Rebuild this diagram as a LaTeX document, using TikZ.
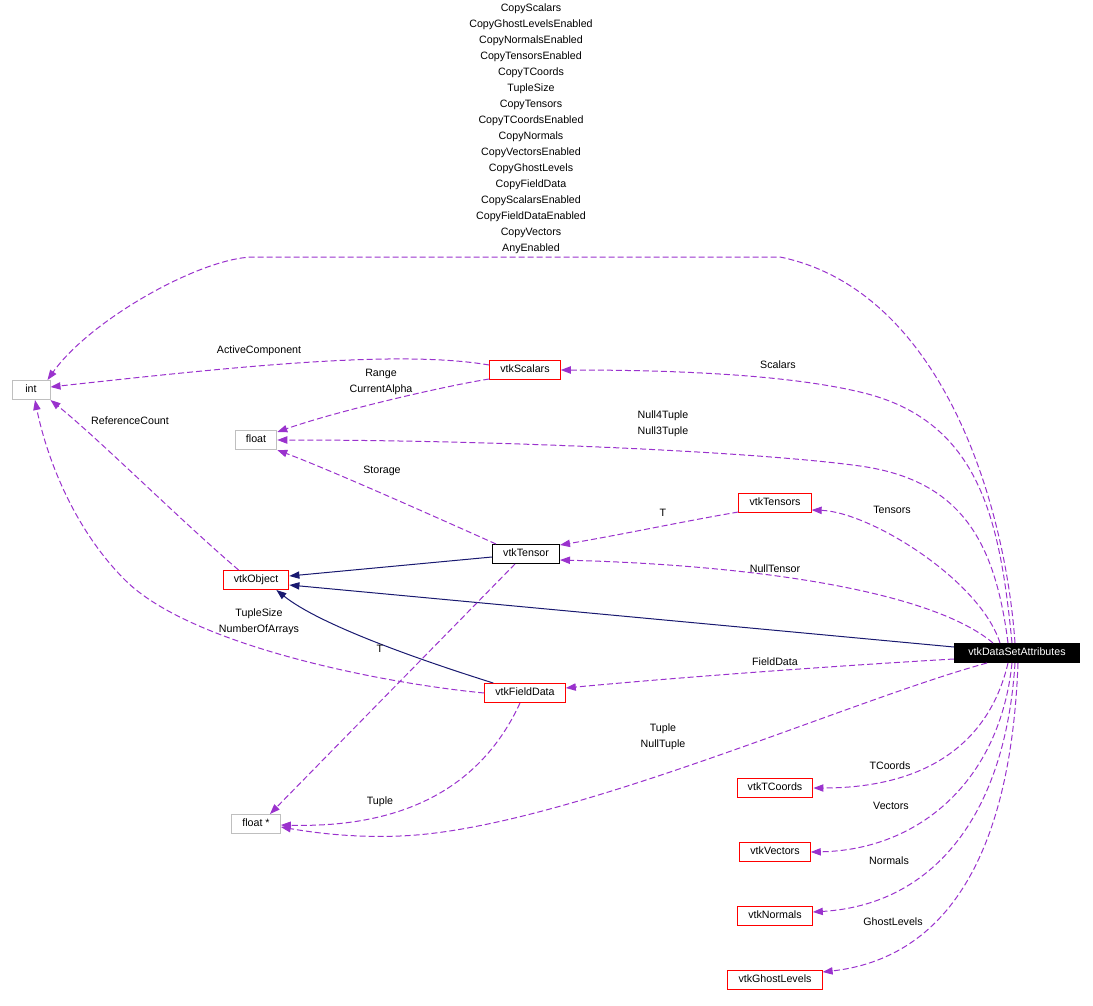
\documentclass[tikz,border=0pt]{standalone}
\usepackage{fontspec}
\setmainfont{Liberation Sans}
\usetikzlibrary{positioning, calc, arrows.meta}
\definecolor{dgUse}{HTML}{9A32CD}
\definecolor{dgInherit}{HTML}{191970}
\definecolor{dgExtern}{HTML}{BFBFBF}

\begin{document}
\begin{tikzpicture}[x=0.75pt,y=-0.75pt,
  font=\fontsize{8}{12}\selectfont,
  box/.style={draw=black, fill=white, line width=0.75pt, minimum height=14.25pt, minimum width=28.5pt,
    inner xsep=8pt, inner ysep=0pt, text height=6pt, text depth=1.7pt},
  cls/.style={box, draw=red},
  ext/.style={box, draw=dgExtern},
  sys/.style={box, fill=black, text=white, inner xsep=10.5pt},
  lbl/.style={inner sep=0pt, align=center, yshift=-1.2pt},
  use/.style={draw=dgUse, line width=0.75pt, dash pattern=on 4.5pt off 2.25pt,
    -{Triangle[length=7.5pt,width=5.5pt]}},
  inherit/.style={draw=dgInherit, line width=0.75pt, -{Triangle[length=7.5pt,width=5.5pt]}}]
\useasboundingbox (0,0) rectangle (1093,1006);

\node[sys] (dsa) at (1017,653) {vtkDataSetAttributes};
\node[ext] (int) at (31,390) {int};
\node[ext] (float) at (256,440) {float};
\node[ext] (fstar) at (256,824) {float *};
\node[cls] (scalars) at (525,370) {vtkScalars};
\node[cls] (tensors) at (775,503) {vtkTensors};
\node[box] (tensor) at (526,554) {vtkTensor};
\node[cls] (object) at (256,580) {vtkObject};
\node[cls] (fielddata) at (525,693) {vtkFieldData};
\node[cls] (tcoords) at (775,788) {vtkTCoords};
\node[cls] (vectors) at (775,852) {vtkVectors};
\node[cls] (normals) at (775,916) {vtkNormals};
\node[cls] (ghost) at (775,980) {vtkGhostLevels};

\draw[inherit] ($(tensor.west)+(0,3)$) -- ($(object.east)+(0,-4)$);
\draw[inherit] ($(dsa.west)+(0,-6)$) -- ($(object.east)+(0,5)$);
\draw[inherit] ($(fielddata.north west)+(9,0)$) .. controls (420,660) and (320,625) .. ($(object.south east)+(-13,0)$);

\draw[use] ($(dsa.north)+(-2,0)$) .. controls (1005,500) and (940,290) .. (780,257)
  -- (253,257) .. controls (200,258) and (90,320) .. ($(int.north east)+(-3,0)$);
\draw[use] ($(dsa.north)+(-5,0)$) .. controls (1000,520) and (980,420) .. (860,392)
  .. controls (788,375) and (680,370) .. (scalars.east);
\draw[use] ($(dsa.north)+(-9,0)$) .. controls (995,540) and (960,480) .. (860,466)
  .. controls (760,452) and (500,440) .. (float.east);
\draw[use] ($(dsa.north)+(-17,0)$) .. controls (980,580) and (870,512) .. ($(tensors.east)+(0,7)$);
\draw[use] ($(dsa.north)+(-24,0)$) .. controls (930,590) and (750,565) .. ($(tensor.east)+(0,6)$);
\draw[use] ($(dsa.west)+(0,6)$) .. controls (800,668) and (650,680) .. ($(fielddata.east)+(0,-5)$);
\draw[use] ($(dsa.south)+(-30,0)$) .. controls (850,700) and (560,830) .. (400,836)
  .. controls (350,838) and (310,832) .. ($(fstar.east)+(0,3)$);
\draw[use] ($(dsa.south)+(-9,0)$) .. controls (990,740) and (930,788) .. (tcoords.east);
\draw[use] ($(dsa.south)+(-5,0)$) .. controls (1000,780) and (920,850) .. (vectors.east);
\draw[use] ($(dsa.south)+(-2,0)$) .. controls (1005,820) and (930,905) .. ($(normals.east)+(0,-4)$);
\draw[use] ($(dsa.south)+(1,0)$) .. controls (1010,880) and (930,960) .. ($(ghost.north east)+(0,2)$);

\draw[use] ($(scalars.west)+(0,-5)$) .. controls (400,350) and (250,365) .. ($(int.east)+(0,-3)$);
\draw[use] ($(scalars.south west)+(0,-1)$) .. controls (450,385) and (340,410) .. ($(float.north east)+(0,2)$);
\draw[use] ($(tensors.south west)+(0,-1)$) .. controls (680,522) and (620,535) .. ($(tensor.north east)+(0,1)$);
\draw[use] ($(tensor.north west)+(4,0)$) .. controls (420,510) and (330,470) .. (float.south east);
\draw[use] ($(tensor.south)+(-11,0)$) -- ($(fstar.north)+(14,0)$);
\draw[use] ($(object.north west)+(16,0)$) .. controls (180,520) and (100,440) .. (int.south east);
\draw[use] (fielddata.west) .. controls (380,683) and (190,645) .. (125,580)
  .. controls (70,525) and (45,450) .. ($(int.south)+(4,0)$);
\draw[use] ($(fielddata.south)+(-5,0)$) .. controls (480,790) and (400,828) .. ($(fstar.east)+(0,1)$);

\node[lbl] (lCopy) at (531,127) {CopyScalars\\CopyGhostLevelsEnabled\\CopyNormalsEnabled\\CopyTensorsEnabled\\CopyTCoords\\TupleSize\\CopyTensors\\CopyTCoordsEnabled\\CopyNormals\\CopyVectorsEnabled\\CopyGhostLevels\\CopyFieldData\\CopyScalarsEnabled\\CopyFieldDataEnabled\\CopyVectors\\AnyEnabled};
\node[lbl] (lActive) at (259,349) {ActiveComponent};
\node[lbl] (lRange) at (381,380) {Range\\CurrentAlpha};
\node[lbl] (lScalars) at (778,363) {Scalars};
\node[lbl] (lNull) at (663,422) {Null4Tuple\\Null3Tuple};
\node[lbl] (lRef) at (130,419) {ReferenceCount};
\node[lbl] (lStorage) at (382,469) {Storage};
\node[lbl] (lT) at (663,511) {T};
\node[lbl] (lTensors) at (892,508) {Tensors};
\node[lbl] (lNullTensor) at (775,567) {NullTensor};
\node[lbl] (lTupleSize) at (259,620) {TupleSize\\NumberOfArrays};
\node[lbl] (lTT) at (380,647) {T};
\node[lbl] (lFieldData) at (775,660) {FieldData};
\node[lbl] (lNullTuple) at (663,735) {Tuple\\NullTuple};
\node[lbl] (lTCoords) at (890,764) {TCoords};
\node[lbl] (lTuple) at (380,800) {Tuple};
\node[lbl] (lVectors) at (891,804) {Vectors};
\node[lbl] (lNormals) at (889,859) {Normals};
\node[lbl] (lGhost) at (893,920) {GhostLevels};
\end{tikzpicture}
\end{document}
